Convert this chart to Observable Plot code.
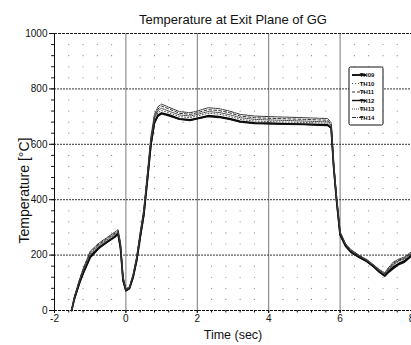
<!DOCTYPE html>
<html>
<head>
<meta charset="utf-8">
<script src="https://cdn.jsdelivr.net/npm/d3@7"></script>
<script src="https://cdn.jsdelivr.net/npm/@observablehq/plot@0.6"></script>
<style>
  html, body { margin: 0; padding: 0; background: #fff; }
  svg { display: block; }
</style>
</head>
<body>
<div id="chart"></div>
<script>
const titleText = "Temperature at Exit Plane of GG";
const xLabel = "Time (sec)";
const yLabel = "Temperature [°C]";
const xTicks = [-2, 0, 2, 4, 6, 8];
const yTicks = [0, 200, 400, 600, 800, 1000];
const seriesNames = ["TH09", "TH10", "TH11", "TH12", "TH13", "TH14"];

const time = [-1.52,-1.45,-1.3,-1.2,-1.0,-0.75,-0.5,-0.3,-0.22,-0.15,-0.08,0.0,0.1,0.2,0.3,0.4,0.5,0.6,0.7,0.8,0.9,1.0,1.2,1.5,1.8,2.0,2.3,2.6,2.9,3.2,3.6,4.0,4.5,5.0,5.4,5.65,5.75,5.82,5.9,6.0,6.15,6.3,6.55,6.75,6.95,7.1,7.25,7.35,7.5,7.65,7.8,8.0];
const th09 = [0,40,100,135,195,228,250,268,278,225,110,72,80,120,180,265,345,470,600,680,705,713,706,692,688,694,703,700,693,683,677,676,674,673,671,670,660,520,400,275,235,212,192,178,158,140,126,140,158,170,178,200];
const th10 = [0,42,104,140,200,232,254,272,281,230,115,74,82,124,186,272,352,478,608,688,715,722,714,700,696,702,712,709,701,690,684,682,680,679,677,676,664,525,405,278,238,215,195,180,160,143,130,145,165,178,185,205];
const th11 = [0,46,110,148,210,240,262,280,288,240,120,76,85,128,190,278,360,488,620,700,728,738,728,712,708,714,725,722,714,702,696,694,692,690,688,687,672,530,410,282,240,218,197,182,162,146,133,150,172,182,190,210];
const th12 = [0,38,98,132,190,225,248,266,276,222,108,71,79,118,178,262,342,466,596,676,702,710,703,690,686,692,700,697,690,680,675,674,672,671,669,668,658,515,396,272,232,210,190,176,156,138,124,136,152,166,174,196];
const th13 = [0,44,106,143,204,236,258,276,284,234,118,75,83,126,188,275,356,483,614,694,722,730,720,706,702,708,718,715,707,696,690,688,686,684,682,681,668,528,408,280,239,216,196,181,161,144,131,147,168,180,187,207];
const th14 = [0,48,112,150,214,244,266,284,292,244,124,78,86,130,194,282,366,494,628,708,736,745,734,718,714,720,732,729,720,708,702,700,698,696,694,693,678,535,415,285,242,220,198,184,164,148,136,154,176,186,193,212];

const seriesValues = [th09, th10, th11, th12, th13, th14];
const styles = {
  TH09: {stroke: "#000", width: 1.8, dash: null},
  TH10: {stroke: "#555", width: 1, dash: "1,2"},
  TH11: {stroke: "#333", width: 1, dash: "3,2"},
  TH12: {stroke: "#111", width: 1.4, dash: null},
  TH13: {stroke: "#444", width: 1, dash: "1,1"},
  TH14: {stroke: "#333", width: 1, dash: "4,1,1,1"}
};

const rows = [];
seriesNames.forEach((name, i) => {
  time.forEach((t, j) => rows.push({series: name, t, v: seriesValues[i][j]}));
});

const minorX = d3.range(-2, 8.001, 0.4).map(d => +d.toFixed(2));
const minorY = d3.range(0, 1000.1, 40);
const dotX = minorX.filter(d => Math.abs(d / 2 - Math.round(d / 2)) > 1e-6);
const dotY = minorY.filter(d => d % 200 !== 0);

const lineMarks = seriesNames.map(name => Plot.line(rows.filter(r => r.series === name), {
  x: "t", y: "v",
  stroke: styles[name].stroke,
  strokeWidth: styles[name].width,
  strokeDasharray: styles[name].dash
}));

const plot = Plot.plot({
  width: 411,
  height: 345,
  marginLeft: 54,
  marginRight: 0,
  marginTop: 33,
  marginBottom: 35,
  style: {fontFamily: "'Liberation Sans', Arial, sans-serif", fontSize: "10px", background: "#fff", color: "#111"},
  x: {domain: [-2, 8], ticks: xTicks, tickSize: 3, tickPadding: 1, tickFormat: d => String(d), label: null},
  y: {domain: [0, 1000], ticks: yTicks, tickSize: 5, tickPadding: 2, tickFormat: d => String(d), label: null},
  marks: [
    Plot.dot(d3.cross(dotX, dotY), {x: d => d[0], y: d => d[1], r: 0.6, fill: "#888", stroke: null}),
    Plot.ruleX([0, 2, 4, 6], {stroke: "#777", strokeWidth: 1}),
    Plot.ruleY([200, 400, 600, 800], {stroke: "#333", strokeDasharray: "2,1", strokeWidth: 1}),
    Plot.ruleY([1000], {stroke: "#222", strokeDasharray: "3,1"}),
    Plot.ruleY([0], {stroke: "#111", strokeDasharray: "3,1"}),
    Plot.ruleX([-2], {stroke: "#111"}),
    Plot.ruleY(minorY, {x1: -2.08, x2: -2, stroke: "#111"}),
    Plot.ruleX(minorX, {y1: 0, y2: -9, stroke: "#111"}),
    ...lineMarks,
    Plot.text([titleText], {frameAnchor: "top", dy: -19, fontSize: 13, fill: "#111"}),
    Plot.text([xLabel], {frameAnchor: "bottom", dy: 28, fontSize: 12.5, fill: "#111"}),
    Plot.text([yLabel], {x: () => -2.84, y: () => 433, rotate: -90, fontSize: 14, fill: "#111"})
  ]
});

document.getElementById("chart").appendChild(plot);

// legend box
const svg = d3.select(plot);
const lg = svg.append("g").attr("transform", "translate(349,67)");
lg.append("rect").attr("width", 34).attr("height", 58).attr("rx", 1.5)
  .attr("fill", "#fff").attr("stroke", "#111").attr("stroke-width", 1);
seriesNames.forEach((name, i) => {
  const y = 8 + i * 8.5;
  const s = styles[name];
  lg.append("line").attr("x1", 3).attr("x2", 17).attr("y1", y).attr("y2", y)
    .attr("stroke", s.stroke).attr("stroke-width", s.width)
    .attr("stroke-dasharray", s.dash);
  lg.append("text").attr("x", 18).attr("y", y).attr("dy", "0.35em")
    .attr("font-size", 6).attr("font-weight", "bold").attr("fill", "#111").text(name);
});
</script>
</body>
</html>
